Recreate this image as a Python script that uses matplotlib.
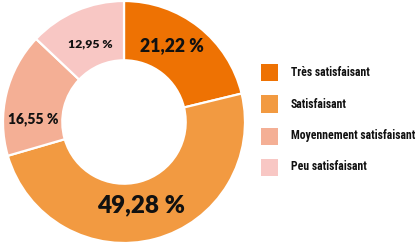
import matplotlib
matplotlib.use("Agg")
import matplotlib.pyplot as plt
from matplotlib.patches import Rectangle
from matplotlib import font_manager

categories = ["Très satisfaisant", "Satisfaisant", "Moyennement satisfaisant", "Peu satisfaisant"]
values = [21.22, 49.28, 16.55, 12.95]
labels = ["21,22 %", "49,28 %", "16,55 %", "12,95 %"]
colors = ["#EE7203", "#F29A41", "#F4AF95", "#F8C7C4"]

names = {f.name for f in font_manager.fontManager.ttflist}
fam, stretch = "DejaVu Sans", "condensed"
for cand in ["Liberation Sans Narrow", "Roboto Condensed", "Open Sans Condensed", "Noto Sans Condensed"]:
    if cand in names:
        fam, stretch = cand, "normal"
        break
lab_fam = "Lato" if "Lato" in names else "DejaVu Sans"
plt.rcParams['font.family'] = [fam, 'DejaVu Sans']

W, H = 420, 248
fig = plt.figure(figsize=(W / 100, H / 100), dpi=100)
cx, cy, R = 124, 122, 121
ax = fig.add_axes([(cx - R) / W, (H - cy - R) / H, 2 * R / W, 2 * R / H])
ax.pie(values, colors=colors, startangle=90, counterclock=False, radius=1,
       wedgeprops=dict(width=0.49, edgecolor="white", linewidth=1.6))
ax.set_xlim(-1, 1)
ax.set_ylim(-1, 1)
ax.set_aspect("equal")
ax.axis("off")

lab_pos = [(172, 46), (141, 205), (33, 119), (90, 44)]
lab_size = [12.7, 17.5, 10, 8.8]
for lab, (px, py), s in zip(labels, lab_pos, lab_size):
    ax.text((px - cx) / R, (cy - py) / R, lab, ha="center", va="center",
            fontsize=s, fontweight="heavy", family=[lab_fam, 'DejaVu Sans'], color="#111111")

ys = [72, 104, 136, 167]
for cat, col, y in zip(categories, colors, ys):
    fig.patches.append(Rectangle((261 / W, (H - y - 8.5) / H), 17 / W, 17 / H,
                                 transform=fig.transFigure, facecolor=col, edgecolor="none"))
    fig.text(291 / W, (H - y) / H, cat, ha="left", va="center", fontsize=8.5,
             fontweight="bold", fontstretch=stretch, color="#111111")

fig.savefig("out.png", dpi=100)
